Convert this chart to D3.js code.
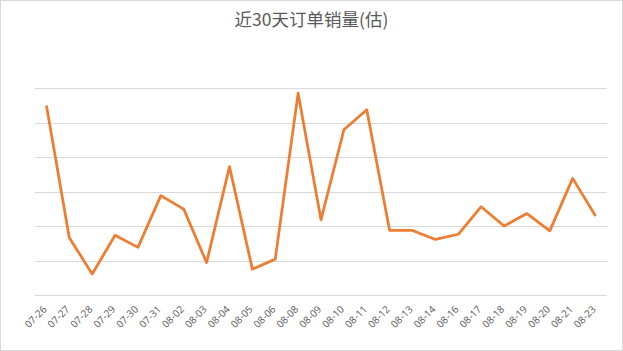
<!DOCTYPE html>
<html>
  <head>
    <meta charset="UTF-8">
    <style>
      body {
        margin: 0;
        background: #fff;
      }

      .title {
        font-family: "Noto Sans CJK SC", "Noto Sans", sans-serif;
        font-size: 17.5px;
        fill: #595959;
      }

      .x-axis text {
        font-family: "Open Sans", "Noto Sans", sans-serif;
        font-size: 10px;
        fill: #595959;
      }
    </style>
    <script src="https://d3js.org/d3.v7.min.js"></script>
  </head>

  <body>
    <svg id="chart"></svg>

    <script type="text/javascript">
      const dates = ['07-26', '07-27', '07-28', '07-29', '07-30', '07-31', '08-02', '08-03', '08-04',
        '08-05', '08-06', '08-08', '08-09', '08-10', '08-11', '08-12', '08-13', '08-14', '08-16',
        '08-17', '08-18', '08-19', '08-20', '08-21', '08-23']
      const sales = [54.9, 16.6, 6.1, 17.3, 13.8, 28.8, 24.9, 9.4, 37.2, 7.5, 10.4, 58.5, 21.8,
        47.9, 53.7, 18.7, 18.7, 16.1, 17.6, 25.6, 20.0, 23.6, 18.6, 33.8, 22.9]
      const gridTicks = [0, 10, 20, 30, 40, 50, 60]
      const titleText = '近30天订单销量(估)'

      const width = 623
      const height = 351
      const margin = {top: 88, right: 16, bottom: 56, left: 35}

      let svg = d3.select('#chart')
        .attr('width', width)
        .attr('height', height)

      svg.append('rect')
        .attr('x', 0.5)
        .attr('y', 0.5)
        .attr('width', width - 1)
        .attr('height', height - 1)
        .attr('fill', '#fff')
        .attr('stroke', '#d9d9d9')

      svg.append('text')
        .attr('class', 'title')
        .attr('x', width / 2)
        .attr('y', 26)
        .attr('text-anchor', 'middle')
        .text(titleText)

      let x = d3.scaleBand()
        .domain(dates)
        .range([margin.left, width - margin.right])

      let y = d3.scaleLinear()
        .domain([0, 60])
        .range([height - margin.bottom, margin.top])

      // gridlines
      svg.append('g')
        .selectAll('line')
        .data(gridTicks)
        .join('line')
          .attr('x1', margin.left)
          .attr('x2', width - margin.right)
          .attr('y1', d => Math.round(y(d)) + 0.5)
          .attr('y2', d => Math.round(y(d)) + 0.5)
          .attr('stroke', '#d9d9d9')
          .attr('stroke-width', 1)

      let xAxis = svg.append('g')
        .attr('class', 'x-axis')
        .attr('transform', `translate(0, ${height - margin.bottom})`)
        .call(d3.axisBottom(x).tickSize(0).tickPadding(0))

      xAxis.select('.domain').remove()
      xAxis.selectAll('text')
        .attr('text-anchor', 'end')
        .attr('dy', 0)
        .attr('transform', 'translate(1, 15) rotate(-45)')

      let line = d3.line()
        .x((d, i) => x(dates[i]) + x.bandwidth() / 2)
        .y(d => y(d))

      svg.append('path')
        .datum(sales)
        .attr('d', line)
        .attr('fill', 'none')
        .attr('stroke', '#ed7d31')
        .attr('stroke-width', 2.75)
        .attr('stroke-linejoin', 'round')
    </script>
  </body>
</html>
